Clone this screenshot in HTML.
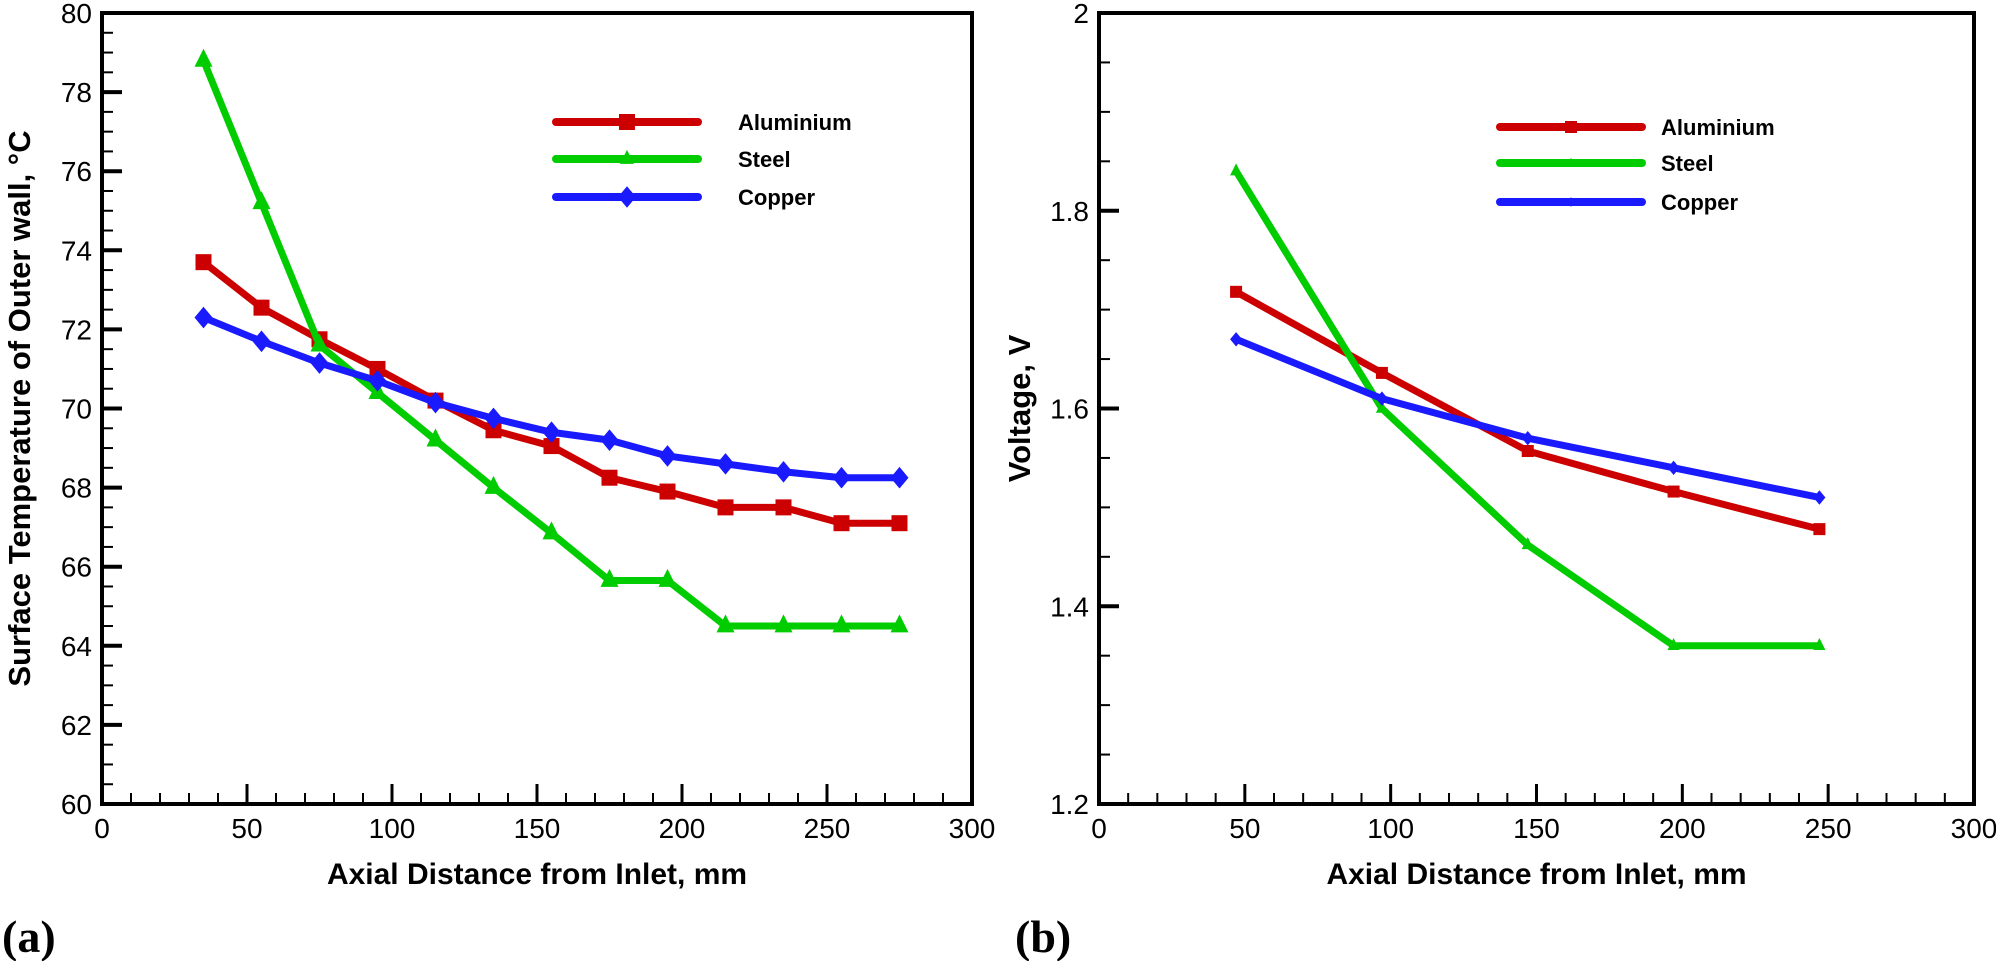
<!DOCTYPE html>
<html><head><meta charset="utf-8"><style>
html,body{margin:0;padding:0;background:#fff;}
svg{display:block;font-family:"Liberation Sans",Arial,sans-serif;}
</style></head><body>
<svg id="s" width="1996" height="961" xmlns="http://www.w3.org/2000/svg"></svg>
<script>
const S=document.getElementById('s');let h='';
function panel(x0,x1,y0,y1,xmin,xmax,ymin,ymax,ymaj,ymin_,ylabels,series,legend,ylab){
 const X=v=>x0+(v-xmin)/(xmax-xmin)*(x1-x0), Y=v=>y1-(v-ymin)/(ymax-ymin)*(y1-y0);
 for(let v=xmin;v<=xmax+1e-9;v+=10){const maj=Math.abs(v%50)<1e-6;const x=X(v);
  h+=`<line x1="${x}" y1="${y1}" x2="${x}" y2="${y1-(maj?20:11)}" stroke="#000" stroke-width="${maj?3:2}"/>`;
  if(maj)h+=`<text x="${x}" y="${y1+34}" font-size="28" text-anchor="middle">${v}</text>`;}
 const n=Math.round((ymax-ymin)/ymin_);
 for(let i=0;i<=n;i++){const v=ymin+i*ymin_;const maj=Math.abs(v/ymaj-Math.round(v/ymaj))<1e-6;const y=Y(v);
  h+=`<line x1="${x0}" y1="${y}" x2="${x0+(maj?20:11)}" y2="${y}" stroke="#000" stroke-width="${maj?4:2}"/>`;
  if(maj)h+=`<text x="${x0-10}" y="${y+10}" font-size="28" text-anchor="end">${ylabels(v)}</text>`;}
 h+=`<rect x="${x0}" y="${y0}" width="${x1-x0}" height="${y1-y0}" fill="none" stroke="#000" stroke-width="4"/>`;
 for(const s of series){
  h+=`<polyline fill="none" stroke="${s.c}" stroke-width="7" stroke-linejoin="round" points="${s.x.map((x,i)=>X(x)+','+Y(s.y[i])).join(' ')}"/>`;
  s.x.forEach((x,i)=>{h+=marker(s.m,X(x),Y(s.y[i]),s.c,s.ms);});
 }
 legend.forEach((l,i)=>{const y=l.y;h+=`<line x1="${l.x1}" y1="${y}" x2="${l.x2}" y2="${y}" stroke="${l.c}" stroke-width="8" stroke-linecap="round"/>`+marker(l.m,(l.x1+l.x2)/2,y,l.c,l.ms)+`<text x="${l.tx}" y="${y+8}" font-size="22" font-weight="bold">${l.t}</text>`;});
 h+=`<text transform="translate(${ylab.x},${(y0+y1)/2}) rotate(-90)" font-size="31" font-weight="bold" text-anchor="middle">${ylab.t}</text>`;
 h+=`<text x="${(x0+x1)/2}" y="${y1+80}" font-size="30" font-weight="bold" text-anchor="middle">Axial Distance from Inlet, mm</text>`;
}
function marker(m,x,y,c,s){
 if(m=='sq')return `<rect x="${x-s}" y="${y-s}" width="${2*s}" height="${2*s}" fill="${c}"/>`;
 if(m=='tri')return `<polygon points="${x},${y-s*1.3} ${x-s},${y+s*0.7} ${x+s},${y+s*0.7}" fill="${c}"/>`;
 return `<polygon points="${x},${y-s*1.2} ${x+s},${y} ${x},${y+s*1.2} ${x-s},${y}" fill="${c}"/>`;
}
const R='#cc0000',G='#00cc00',B='#1a1aff';
const xl=[35,55,75,95,115,135,155,175,195,215,235,255,275];
panel(102,972,13,804,0,300,60,80,2,0.5,v=>v.toFixed(0),[
 {c:R,m:'sq',ms:8,x:xl,y:[73.7,72.55,71.75,71.0,70.2,69.45,69.05,68.25,67.9,67.5,67.5,67.1,67.1]},
 {c:G,m:'tri',ms:9,x:xl,y:[78.8,75.2,71.6,70.4,69.2,68.0,66.85,65.65,65.65,64.5,64.5,64.5,64.5]},
 {c:B,m:'dia',ms:9,x:xl,y:[72.3,71.7,71.15,70.7,70.15,69.75,69.4,69.2,68.8,68.6,68.4,68.25,68.25]}
],[
 {x1:556,x2:698,y:122,c:R,m:'sq',ms:8,tx:738,t:'Aluminium'},
 {x1:556,x2:698,y:159,c:G,m:'tri',ms:7,tx:738,t:'Steel'},
 {x1:556,x2:698,y:197,c:B,m:'dia',ms:9,tx:738,t:'Copper'}
],{x:30,t:'Surface Temperature of Outer wall, °C'});
const xr=[47,97,147,197,247];
panel(1099,1974,13,804,0,300,1.2,2,0.2,0.05,v=>(Math.abs(v-2)<1e-6?'2':v.toFixed(1)),[
 {c:R,m:'sq',ms:6,x:xr,y:[1.718,1.636,1.557,1.516,1.478]},
 {c:G,m:'tri',ms:6,x:xr,y:[1.84,1.60,1.462,1.36,1.36]},
 {c:B,m:'dia',ms:6,x:xr,y:[1.67,1.61,1.57,1.54,1.51]}
],[
 {x1:1500,x2:1642,y:127,c:R,m:'sq',ms:6,tx:1661,t:'Aluminium'},
 {x1:1500,x2:1642,y:163,c:G,m:'tri',ms:4,tx:1661,t:'Steel'},
 {x1:1500,x2:1642,y:202,c:B,m:'dia',ms:4,tx:1661,t:'Copper'}
],{x:1030,t:'Voltage, V'});
h+=`<text x="2" y="952" font-family="Liberation Serif,serif" font-size="46" font-weight="bold">(a)</text>`;
h+=`<text x="1015" y="952" font-family="Liberation Serif,serif" font-size="46" font-weight="bold">(b)</text>`;
S.innerHTML=h;
</script>
</body></html>
